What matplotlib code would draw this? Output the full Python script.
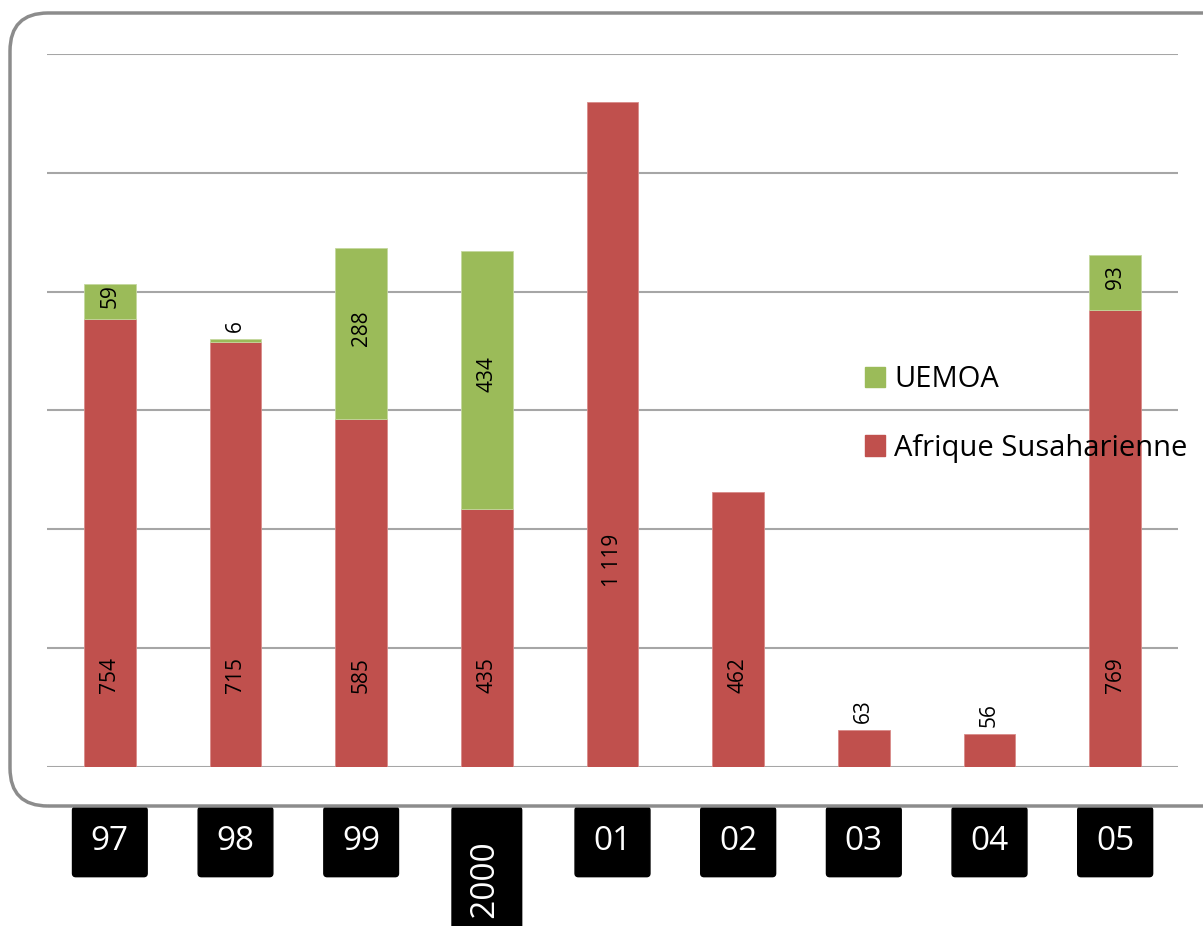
import numpy as np
import matplotlib.pyplot as plt
from matplotlib.patches import FancyBboxPatch, Patch

plt.rcParams['font.family'] = ['Open Sans', 'DejaVu Sans']

# donnees du graphique
annees = ['97', '98', '99', '2000', '01', '02', '03', '04', '05']
afrique = [754, 715, 585, 435, 1119, 462, 63, 56, 769]
uemoa = [59, 6, 288, 434, 0, 0, 0, 0, 93]
etiquettes_afrique = ['754', '715', '585', '435', '1 119', '462', '63', '56', '769']

rouge = '#C0504D'
vert = '#9BBB59'

fig = plt.figure(figsize=(12.03, 9.26), dpi=100)
ax = fig.add_axes([47 / 1203, 1 - 767 / 926, (1178 - 47) / 1203, (767 - 54) / 926])

# cadre arrondi autour du graphique
cadre = FancyBboxPatch((10, 120), 1300, 793, boxstyle='round,pad=0,rounding_size=38',
                       transform=None, facecolor='none', edgecolor='#8c8c8c', lw=2.5,
                       zorder=0)
fig.patches.append(cadre)

x = np.arange(len(annees))
largeur = 0.41
ax.bar(x, afrique, largeur, color=rouge, edgecolor='#d98b89', lw=0.6, zorder=2)
u_arr = np.array(uemoa, dtype=float)
masque = u_arr > 0
ax.bar(x[masque], u_arr[masque], largeur, bottom=np.array(afrique)[masque], color=vert,
       edgecolor='#c4d89e', lw=0.6, zorder=2)

# etiquettes des valeurs
taille = 15
for i in range(len(annees)):
    a = afrique[i]
    if a < 100:
        ax.annotate(etiquettes_afrique[i], (x[i], a + uemoa[i]), xytext=(0, 5),
                    textcoords='offset points', rotation=90, ha='center', va='bottom',
                    fontsize=taille, zorder=3)
    elif a > 1000:
        ax.text(x[i], 348, etiquettes_afrique[i], rotation=90, ha='center', va='center',
                fontsize=taille, zorder=3)
    else:
        ax.text(x[i], 124, etiquettes_afrique[i], rotation=90, ha='center', va='bottom',
                fontsize=taille, zorder=3)
    u = uemoa[i]
    if u >= 50:
        ax.annotate(str(u), (x[i], a + u / 2), xytext=(0, 4), textcoords='offset points',
                    rotation=90, ha='center', va='center', fontsize=taille, zorder=3)
    elif u > 0:
        ax.annotate(str(u), (x[i], a + u), xytext=(0, 5), textcoords='offset points',
                    rotation=90, ha='center', va='bottom', fontsize=taille, zorder=3)

ax.set_xlim(-0.5, len(annees) - 0.5)
ax.set_ylim(0, 1200)
ax.set_yticks(np.arange(0, 1201, 200))
ax.yaxis.grid(True, color='#a6a6a6', lw=1.5)
ax.set_axisbelow(True)
for s in ax.spines.values():
    s.set_visible(False)
ax.tick_params(axis='y', length=0, labelleft=False)
ax.tick_params(axis='x', length=0, pad=42)

# le libelle 2000 est vertical, sa boite est plus longue
libelles = ['  ' + a + '  ' if a == '2000' else a for a in annees]
ax.set_xticks(x)
ax.set_xticklabels(libelles, fontsize=24, color='white')
for lbl in ax.get_xticklabels():
    lbl.set_bbox(dict(boxstyle='round,pad=0.55,rounding_size=0.1', facecolor='black',
                      edgecolor='black'))
    if '2000' in lbl.get_text():
        lbl.set_rotation(90)
        lbl.set_va('top')

handles = [Patch(color=vert), Patch(color=rouge)]
ax.legend(handles, ['UEMOA', 'Afrique Susaharienne'], loc='upper left',
          bbox_to_anchor=(0.7, 0.6), frameon=False, fontsize=21,
          handlelength=0.7, handleheight=0.7, handletextpad=0.3, labelspacing=1.35)

fig.savefig('out.png', dpi=100)
